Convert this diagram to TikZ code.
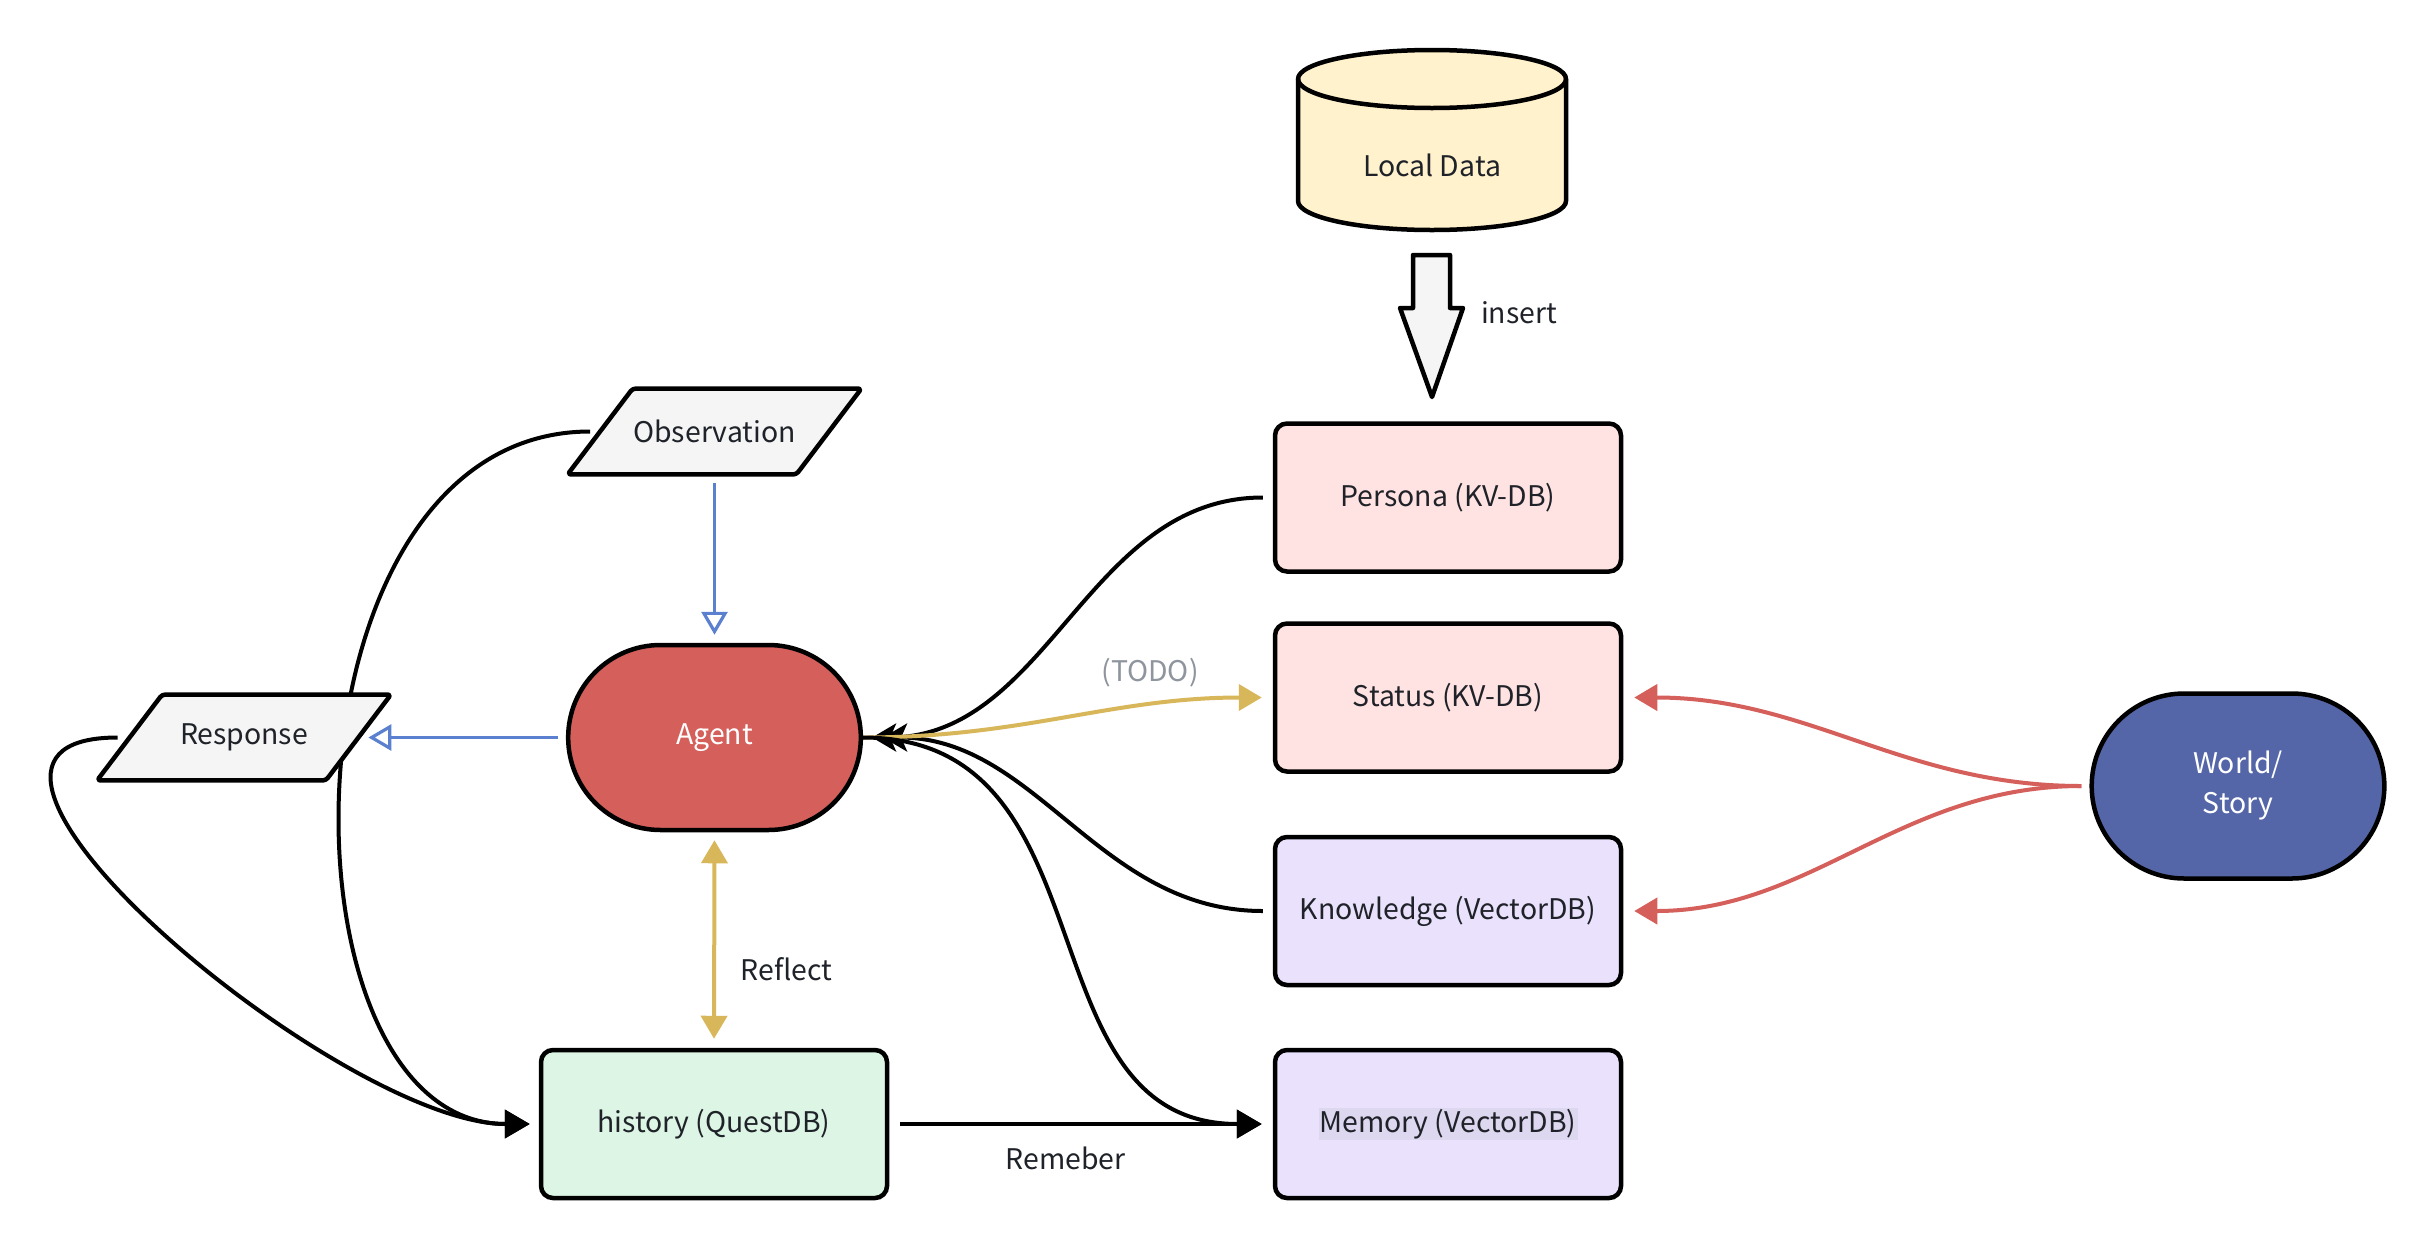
\documentclass[tikz,border=0pt]{standalone}
\usepackage{fontspec}
\setmainfont{Noto Sans CJK SC}
\usetikzlibrary{shapes.misc, arrows.meta}
\setlength{\fboxsep}{0.5pt}

\definecolor{ink}{HTML}{1F2329}
\definecolor{iofill}{HTML}{F5F5F5}
\definecolor{agentred}{HTML}{D45F5B}
\definecolor{worldblue}{HTML}{5566A8}
\definecolor{kvpink}{HTML}{FFE3E3}
\definecolor{vecpurple}{HTML}{EAE2FC}
\definecolor{memhl}{HTML}{DDD7EF}
\definecolor{histgreen}{HTML}{DDF5E4}
\definecolor{dataylw}{HTML}{FFF2CC}
\definecolor{flowblue}{HTML}{5B80D0}
\definecolor{flowgold}{HTML}{D8B65A}
\definecolor{todogray}{HTML}{8F959E}

\pgfdeclarelayer{bg}
\pgfdeclarelayer{mid}
\pgfsetlayers{bg,mid,main}

% slanted in/out box drawn round a named node
\newcommand{\ioshape}[1]{\draw[iopath] ([xshift=16.25pt]#1.north west) -- ([xshift=16.25pt]#1.north east)
  -- ([xshift=-16.25pt]#1.south east) -- ([xshift=-16.25pt]#1.south west) -- cycle;}

\tikzset{
  every node/.style={font=\fontsize{14.2pt}{20pt}\selectfont, text=ink},
  dbbox/.style={draw, line width=2.25pt, rounded corners=6pt, minimum width=173pt, minimum height=74pt},
  iobox/.style={rectangle, minimum width=114pt, minimum height=42.5pt},
  iopath/.style={draw, line width=2.25pt, fill=iofill, rounded corners=1.5pt, line join=round},
  terminal/.style={draw, line width=2.25pt, rounded rectangle, minimum width=153pt, minimum height=92.5pt, text=white, align=center},
  flow/.style={line width=2pt, -{Triangle[length=12.5pt,width=14pt]}},
  fork/.style={line width=2pt, -{Stealth[length=12pt,width=14pt,inset=3pt]}},
  blueflow/.style={draw=flowblue, line width=1.6pt, -{Triangle[open,length=11.5pt,width=13pt]}},
  goldflow/.style={draw=flowgold, line width=2pt, {Triangle[length=11.5pt,width=13pt]}-{Triangle[length=11.5pt,width=13pt]}},
  todoflow/.style={draw=flowgold, line width=2pt, -{Triangle[length=11.5pt,width=13pt]}},
  redflow/.style={draw=agentred, line width=2pt, -{Triangle[length=11.5pt,width=13pt]}},
  datacyl/.style={draw, line width=2.25pt, fill=dataylw, line join=round},
  bigarrow/.style={draw, line width=2.25pt, fill=iofill, line join=round}
}

\begin{document}
\begin{tikzpicture}[x=0.5pt, y=-0.5pt]
  \useasboundingbox (0,0) rectangle (2434,1248);

  % local data store and insert arrow
  \draw[datacyl] (1298,79) -- (1298,201) arc[start angle=180, end angle=360, x radius=67pt, y radius=14.5pt]
    -- (1566,79) arc[start angle=0, end angle=180, x radius=67pt, y radius=14.5pt] -- cycle;
  \draw[line width=2.25pt] (1298,79) arc[start angle=180, end angle=360, x radius=67pt, y radius=14.5pt];
  \node (local) at (1432,165) {Local Data};
  \draw[bigarrow] (1413,255) -- (1450,255) -- (1450,308) -- (1463,308) -- (1432,397) -- (1400,308) -- (1413,308) -- cycle;
  \node (insert) at (1519,313) {insert};

  \node[iobox] (obs) at (714.5,431.5) {Observation};
  \node[iobox] (resp) at (244,737.5) {Response};
  \node[terminal, fill=agentred] (agent) at (714.5,737.5) {Agent};
  \node[terminal, fill=worldblue] (world) at (2238,786) {World/\\Story};
  \node[dbbox, fill=histgreen] (hist) at (714,1124) {history (QuestDB)};
  \node[dbbox, fill=kvpink] (persona) at (1448,497.5) {Persona (KV-DB)};
  \node[dbbox, fill=kvpink] (status) at (1448,697.5) {Status (KV-DB)};
  \node[dbbox, fill=vecpurple] (know) at (1448,911) {Knowledge (VectorDB)};
  \node[dbbox, fill=vecpurple] (mem) at (1448,1124) {\colorbox{memhl}{Memory (VectorDB)}};
  \node[text=todogray] (todo) at (1150,673) {(TODO)};

  \begin{pgfonlayer}{mid}
  \ioshape{obs}
  \ioshape{resp}
  \end{pgfonlayer}

  \begin{pgfonlayer}{bg}
  \fill[white] (0,0) rectangle (2434,1248);
  \draw[blueflow, shorten <=4.5pt, shorten >=4pt] (obs.south) -- (agent.north);
  \draw[blueflow, shorten <=4pt, shorten >=5pt] (agent.west) -- (resp.east);
  \draw[goldflow, shorten <=4pt, shorten >=4.5pt] (agent.south) -- (hist.north)
    node[pos=0.635, anchor=west, xshift=9pt] {Reflect};
  \draw[fork, shorten <=5pt, shorten >=4.5pt] (persona.west) to[out=180, in=0] (agent.east);
  \draw[fork, shorten <=5pt, shorten >=10pt] (know.west) to[out=180, in=0] (agent.east);
  \draw[todoflow, shorten >=5.5pt] (agent.east) to[out=0, in=180] (status.west);
  \draw[flow, shorten >=5.5pt] (agent.east) to[out=0, in=180, looseness=1.15] (mem.west);
  \draw[flow, shorten <=5.5pt, shorten >=5.5pt] (hist.east) -- (mem.west)
    node[pos=0.46, below=7pt] {Remeber};
  \draw[flow, shorten <=5pt, shorten >=4.5pt] (obs.west) .. controls +(-328,0) and +(-270,0) .. (hist.west);
  \draw[flow, shorten <=6pt, shorten >=4.5pt] (resp.west) .. controls +(-250,0) and +(-200,0) .. (hist.west);
  \draw[redflow, shorten <=4pt, shorten >=5.5pt] (world.west) to[out=180, in=0] (status.east);
  \draw[redflow, shorten <=4pt, shorten >=5.5pt] (world.west) to[out=180, in=0] (know.east);
  \end{pgfonlayer}
\end{tikzpicture}
\end{document}
